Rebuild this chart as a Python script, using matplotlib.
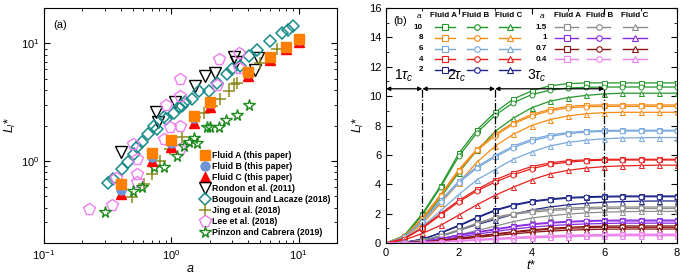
import numpy as np
import matplotlib
matplotlib.use("Agg")
import matplotlib.pyplot as plt
from matplotlib.ticker import MultipleLocator, LogLocator, NullFormatter

plt.rcParams['font.family'] = ['Liberation Sans', 'DejaVu Sans']
plt.rcParams['mathtext.fontset'] = 'custom'
plt.rcParams['mathtext.rm'] = 'Liberation Sans'
plt.rcParams['mathtext.it'] = 'Liberation Sans:italic'

# ---------------- Panel (a) data ----------------
a_paper = [0.4, 0.7, 1.0, 1.5, 2.0, 4.0, 6.0, 8.0, 10.0]
L_fluidA = [0.63, 1.17, 1.5, 2.4, 3.2, 5.7, 7.65, 9.4, 10.9]
L_fluidB = [0.57, 1.08, 1.42, 2.3, 3.12, 5.62, 7.6, 9.3, 10.62]
L_fluidC = [0.52, 1.0, 1.32, 2.12, 2.86, 5.28, 7.18, 8.9, 10.2]

a_rondon = [0.405, 0.76, 0.79, 1.07, 1.54, 1.85, 2.2, 3.1, 3.2, 4.5, 4.8]
L_rondon = [1.18, 2.6, 2.15, 3.2, 4.35, 5.3, 5.65, 7.7, 7.0, 5.9, 7.5]

a_bougouin = [0.32, 0.35, 0.41, 0.46, 0.51, 0.54, 0.59, 0.66, 0.73, 0.77, 0.87, 0.9,
              1.04, 1.14, 1.21, 1.29, 1.45, 1.64, 1.96, 2.28, 2.73, 2.99, 3.47, 4.04,
              4.7, 6.0, 7.4, 8.2, 9.1]
L_bougouin = [0.65, 0.70, 0.855, 0.97, 1.15, 1.3, 1.46, 1.69, 1.99, 1.87, 2.34, 2.27,
              2.58, 2.85, 2.94, 3.14, 3.35, 3.94, 3.94, 4.64, 5.46, 6.03, 6.42, 7.8,
              8.7, 10.5, 12.3, 13.0, 14.0]

a_jing = [0.49, 0.61, 0.71, 0.81, 0.98, 1.21, 1.54, 1.79, 2.09, 2.42, 2.82, 3.08, 3.28, 5.0, 6.75]
L_jing = [0.49, 0.64, 0.77, 1.0, 1.26, 1.59, 2.34, 2.58, 2.94, 3.35, 3.94, 4.49, 4.64, 6.85, 8.9]

a_lee = [0.224, 0.34, 0.37, 0.5, 0.54, 0.54, 0.54, 0.87, 0.91, 0.98, 1.18, 1.18, 1.18,
         1.18, 2.3, 2.35, 3.38, 3.43]
L_lee = [0.39, 0.42, 0.72, 1.38, 0.66, 0.78, 1.04, 1.54, 2.98, 1.93, 1.26, 1.99, 3.57,
         4.95, 4.4, 7.3, 8.2, 6.2]

a_pinzon = [0.3, 0.5, 0.59, 0.73, 0.87, 1.11, 1.25, 1.37, 1.5, 1.59, 1.9, 2.0, 2.35, 2.7, 3.28, 4.04]
L_pinzon = [0.37, 0.55, 0.6, 0.88, 0.88, 1.11, 1.35, 1.44, 1.56, 1.42, 1.93, 1.93, 1.94, 2.24, 2.45, 3.0]

# ---------------- Panel (b) data ----------------
t_star = [0, 0.5, 1.0, 1.5, 2.0, 2.5, 3.0, 3.5, 4.0, 4.5, 5.0, 5.5, 6.0, 6.5, 7.0, 7.5, 8.0]

a10_A = [0, 0.5, 2.0, 3.9, 6.1, 7.7, 8.9, 9.8, 10.35, 10.7, 10.85, 10.9, 10.9, 10.9, 10.9, 10.9, 10.9]
a10_B = [0, 0.45, 1.9, 3.8, 5.9, 7.5, 8.7, 9.55, 10.1, 10.4, 10.55, 10.6, 10.62, 10.62, 10.62, 10.62, 10.62]
a10_C = [0, 0.35, 1.5, 3.1, 4.8, 6.3, 7.6, 8.5, 9.2, 9.65, 9.9, 10.05, 10.15, 10.2, 10.2, 10.2, 10.2]

a8_A = [0, 0.45, 1.7, 3.3, 5.0, 6.4, 7.4, 8.2, 8.75, 9.1, 9.3, 9.38, 9.4, 9.4, 9.4, 9.4, 9.4]
a8_B = [0, 0.4, 1.6, 3.2, 4.9, 6.3, 7.3, 8.1, 8.65, 9.0, 9.2, 9.28, 9.3, 9.3, 9.3, 9.3, 9.3]
a8_C = [0, 0.35, 1.3, 2.7, 4.1, 5.5, 6.6, 7.4, 8.0, 8.4, 8.65, 8.8, 8.88, 8.9, 8.9, 8.9, 8.9]

a6_A = [0, 0.4, 1.5, 2.9, 4.2, 5.2, 5.95, 6.6, 7.05, 7.35, 7.52, 7.62, 7.66, 7.68, 7.68, 7.68, 7.68]
a6_B = [0, 0.38, 1.45, 2.8, 4.1, 5.1, 5.85, 6.5, 6.95, 7.25, 7.45, 7.55, 7.6, 7.62, 7.62, 7.62, 7.62]
a6_C = [0, 0.3, 1.1, 2.2, 3.3, 4.3, 5.0, 5.7, 6.2, 6.6, 6.85, 7.0, 7.1, 7.15, 7.17, 7.18, 7.18]

a4_A = [0, 0.3, 1.05, 2.0, 2.9, 3.65, 4.3, 4.8, 5.2, 5.45, 5.6, 5.66, 5.7, 5.7, 5.7, 5.7, 5.7]
a4_B = [0, 0.28, 1.0, 1.9, 2.8, 3.55, 4.15, 4.65, 5.05, 5.35, 5.5, 5.6, 5.64, 5.65, 5.65, 5.65, 5.65]
a4_C = [0, 0.2, 0.65, 1.2, 1.9, 2.6, 3.25, 3.8, 4.3, 4.7, 4.95, 5.1, 5.2, 5.25, 5.28, 5.3, 5.3]

a2_A = [0, 0.05, 0.25, 0.7, 1.2, 1.75, 2.25, 2.6, 2.85, 3.0, 3.1, 3.15, 3.18, 3.2, 3.2, 3.2, 3.2]
a2_B = [0, 0.05, 0.25, 0.68, 1.15, 1.7, 2.2, 2.55, 2.8, 2.95, 3.05, 3.1, 3.13, 3.15, 3.15, 3.15, 3.15]
a2_C = [0, 0.03, 0.15, 0.45, 0.85, 1.25, 1.6, 1.95, 2.25, 2.45, 2.6, 2.7, 2.78, 2.82, 2.85, 2.86, 2.86]

a15_A = [0, 0.04, 0.2, 0.5, 0.9, 1.35, 1.75, 2.0, 2.2, 2.3, 2.38, 2.42, 2.45, 2.45, 2.45, 2.45, 2.45]
a15_B = [0, 0.04, 0.18, 0.48, 0.85, 1.3, 1.68, 1.95, 2.1, 2.2, 2.28, 2.32, 2.35, 2.35, 2.35, 2.35, 2.35]
a15_C = [0, 0.02, 0.1, 0.3, 0.55, 0.85, 1.15, 1.45, 1.7, 1.85, 1.97, 2.05, 2.1, 2.13, 2.15, 2.15, 2.15]

a1_A = [0, 0.02, 0.1, 0.3, 0.55, 0.75, 0.95, 1.15, 1.3, 1.4, 1.47, 1.52, 1.55, 1.56, 1.56, 1.56, 1.56]
a1_B = [0, 0.02, 0.1, 0.28, 0.5, 0.72, 0.9, 1.1, 1.25, 1.35, 1.42, 1.47, 1.5, 1.5, 1.5, 1.5, 1.5]
a1_C = [0, 0.01, 0.07, 0.2, 0.4, 0.6, 0.78, 0.95, 1.08, 1.18, 1.25, 1.3, 1.33, 1.35, 1.35, 1.35, 1.35]

a07_A = [0, 0.02, 0.07, 0.18, 0.32, 0.47, 0.62, 0.77, 0.9, 1.0, 1.07, 1.12, 1.15, 1.16, 1.16, 1.16, 1.16]
a07_B = [0, 0.02, 0.06, 0.16, 0.3, 0.44, 0.58, 0.72, 0.84, 0.93, 1.0, 1.04, 1.07, 1.07, 1.07, 1.07, 1.07]
a07_C = [0, 0.01, 0.05, 0.13, 0.25, 0.38, 0.5, 0.62, 0.73, 0.81, 0.87, 0.91, 0.94, 0.95, 0.95, 0.95, 0.95]

a04_A = [0, 0.01, 0.04, 0.09, 0.16, 0.24, 0.31, 0.38, 0.44, 0.49, 0.53, 0.56, 0.58, 0.6, 0.6, 0.6, 0.6]
a04_B = [0, 0.01, 0.03, 0.08, 0.14, 0.21, 0.28, 0.34, 0.4, 0.45, 0.49, 0.52, 0.54, 0.55, 0.55, 0.55, 0.55]
a04_C = [0, 0.01, 0.03, 0.07, 0.12, 0.18, 0.24, 0.3, 0.35, 0.39, 0.43, 0.46, 0.48, 0.5, 0.5, 0.5, 0.5]

a_labels = ["10", "8", "6", "4", "2", "1.5", "1", "0.7", "0.4"]
series_b = [(a10_A, a10_B, a10_C), (a8_A, a8_B, a8_C), (a6_A, a6_B, a6_C),
            (a4_A, a4_B, a4_C), (a2_A, a2_B, a2_C), (a15_A, a15_B, a15_C),
            (a1_A, a1_B, a1_C), (a07_A, a07_B, a07_C), (a04_A, a04_B, a04_C)]
colors_b = ["#23962a", "#f58a14", "#78a8dc", "#e8201c", "#1c2488",
            "#8c8c8c", "#8a2be2", "#8b1414", "#ee82ee"]
fluid_markers = ["s", "o", "^"]
tau_marks = [1, 3, 6]

# ---------------- Figure ----------------
fig = plt.figure(figsize=(6.98, 2.79), dpi=100)
ax1 = fig.add_axes([44/698, 36/279, 293/698, 235/279])
ax2 = fig.add_axes([386/698, 36/279, 291/698, 235/279])

# Panel (a)
ax1.plot(a_paper, L_fluidC, '^', color='#ff0000', ms=7, mec='#ff0000', zorder=3, label='Fluid C (this paper)')
ax1.plot(a_paper, L_fluidB, 'o', color='#6f95d6', ms=6.5, zorder=4, label='Fluid B (this paper)')
ax1.plot(a_paper, L_fluidA, 's', color='#ff8000', ms=6.5, zorder=5, label='Fluid A (this paper)')
ax1.plot(a_rondon, L_rondon, 'v', mfc='none', mec='black', ms=8, mew=1.0, label='Rondon et al. (2011)')
ax1.plot(a_bougouin, L_bougouin, 'D', mfc='none', mec='#178a8a', ms=6.5, mew=1.1, label='Bougouin and Lacaze (2018)')
ax1.plot(a_jing, L_jing, '+', color='#8c8a1a', ms=8, mew=1.1, label='Jing et al. (2018)')
ax1.plot(a_lee, L_lee, 'p', mfc='none', mec='#f07ef0', ms=8.5, mew=1.0, label='Lee et al. (2018)')
ax1.plot(a_pinzon, L_pinzon, '*', mfc='none', mec='#1d8a1d', ms=8.5, mew=1.0, label='Pinzon and Cabrera (2019)')
ax1.set_xscale('log')
ax1.set_yscale('log')
ax1.set_xlim(0.1, 20)
ax1.set_ylim(0.2, 20)
ax1.xaxis.set_major_locator(LogLocator(base=10, numticks=10))
ax1.yaxis.set_major_locator(LogLocator(base=10, numticks=10))
ax1.tick_params(which='both', direction='in', top=True, right=True, labelsize=8)
ax1.tick_params(which='major', length=4)
ax1.tick_params(which='minor', length=2)
ax1.set_xlabel('$\\it{a}$', fontsize=9, labelpad=1)
ax1.set_ylabel('$\\it{L_l}$*', fontsize=9, labelpad=2)
ax1.text(0.03, 0.95, '(a)', transform=ax1.transAxes, fontsize=8, va='top')
handles, labels = ax1.get_legend_handles_labels()
order = [2, 1, 0, 3, 4, 5, 6, 7]
leg = ax1.legend([handles[i] for i in order], [labels[i] for i in order], loc='lower right',
                 frameon=False, prop={'weight': 'bold', 'size': 6.3}, handletextpad=0.4,
                 labelspacing=0.22, borderaxespad=0.3, handlelength=1.0)

# Panel (b)
for (sA, sB, sC), col in zip(series_b, colors_b):
    for s, m in zip((sA, sB, sC), fluid_markers):
        ax2.plot(t_star, s, '-', color=col, lw=0.9, marker=m, ms=3.6, mfc='white',
                 mec=col, mew=0.7, markevery=slice(1, None))
ax2.set_xlim(0, 8)
ax2.set_ylim(0, 16)
ax2.xaxis.set_major_locator(MultipleLocator(2))
ax2.xaxis.set_minor_locator(MultipleLocator(1))
ax2.yaxis.set_major_locator(MultipleLocator(2))
ax2.yaxis.set_minor_locator(MultipleLocator(1))
ax2.tick_params(which='both', direction='in', top=True, right=True, labelsize=8)
ax2.tick_params(which='major', length=4)
ax2.tick_params(which='minor', length=2)
ax2.set_xlabel('$\\it{t}$*', fontsize=9, labelpad=1)
ax2.set_ylabel('$\\it{L_l}$*', fontsize=9, labelpad=2)

y_arrow = 10.5
for tm in tau_marks:
    ax2.plot([tm, tm], [0, y_arrow], color='black', lw=0.9, ls='-.')
bounds = [0] + tau_marks
tau_texts = ['1$\\tau_c$', '2$\\tau_c$', '3$\\tau_c$']
tau_text_x = [0.5, 1.95, 4.15]
for i in range(3):
    ax2.annotate('', xy=(bounds[i], y_arrow), xytext=(bounds[i + 1], y_arrow),
                 arrowprops=dict(arrowstyle='<|-|>', color='black', lw=0.9,
                                 mutation_scale=6, shrinkA=0, shrinkB=0))
    ax2.text(tau_text_x[i], y_arrow + 0.3, tau_texts[i], fontsize=10, ha='center', va='bottom')

ax2.text(0.025, 0.965, '(b)', transform=ax2.transAxes, fontsize=8, va='top')

# custom table legend in panel (b)
def fx(px):
    return (px - 386) / 291

def fy(py):
    return (243 - py) / 235

hdr_y = fy(15.5)
blocks = [(0, 5, 419, 423, [(435, 455), (467, 487), (499, 520)], [443, 476, 509]),
          (5, 9, 542, 547, [(555, 578), (587, 610), (623, 647)], [567, 600, 635])]
row_py = [27.3, 37.9, 48.5, 59.1, 69.7]
for start, end, ahx, alx, segs, hx in blocks:
    ax2.text(fx(ahx), hdr_y, '$\\it{a}$', transform=ax2.transAxes, fontsize=6,
             fontweight='bold', ha='center', va='center')
    for j, name in enumerate(['Fluid A', 'Fluid B', 'Fluid C']):
        ax2.text(fx(hx[j]), hdr_y, name, transform=ax2.transAxes, fontsize=5.8,
                 fontweight='bold', ha='center', va='center')
    for r, k in enumerate(range(start, end)):
        yy = fy(row_py[r])
        ax2.text(fx(alx), yy, a_labels[k], transform=ax2.transAxes, fontsize=5.8,
                 fontweight='bold', ha='right', va='center')
        for (x0, x1), m in zip(segs, fluid_markers):
            ax2.plot([fx(x0), fx(x1)], [yy, yy], transform=ax2.transAxes, color=colors_b[k], lw=1.0)
            ax2.plot([fx((x0 + x1) / 2)], [yy], transform=ax2.transAxes, marker=m, ms=4,
                     mfc='white', mec=colors_b[k], mew=0.8)

fig.savefig('out.png', dpi=100)
